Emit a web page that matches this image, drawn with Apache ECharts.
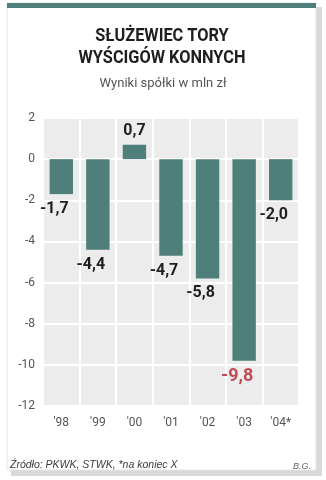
<!DOCTYPE html>
<html><head><meta charset="utf-8">
<script src="https://cdn.jsdelivr.net/npm/echarts@6/dist/echarts.min.js"></script>
<style>html,body{margin:0;padding:0;background:#fff;}#c{width:326px;height:480px;}</style>
</head><body><div id="c"></div>
<script>
const categories = ["'98", "'99", "'00", "'01", "'02", "'03", "'04*"];
const values = [-1.7, -4.4, 0.7, -4.7, -5.8, -9.8, -2.0];
const yTicks = { min: -12, max: 2, interval: 2 };
const titleLines = ["SŁUŻEWIEC TORY", "WYŚCIGÓW KONNYCH"];
const subtitle = "Wyniki spółki w mln zł";
const source = "Źródło: PKWK, STWK, *na koniec X";
const author = "B.G.";

const chart = echarts.init(document.getElementById('c'), null, {renderer: 'canvas'});
const fmt = v => String(v.toFixed(1)).replace('.', ',');
chart.setOption({
  animation: false,
  backgroundColor: '#fff',
  graphic: [
    {type: 'rect', shape: {x: 11, y: 7, width: 311, height: 469}, style: {fill: '#d9d9d9'}, z: -10},
    {type: 'rect', shape: {x: 7, y: 3, width: 309, height: 467}, style: {fill: '#fff', stroke: '#e6e6e6', lineWidth: 1}, z: -9},
    {type: 'rect', shape: {x: 7, y: 3, width: 309, height: 5}, style: {fill: '#4f7f7b'}, z: -8},
    {type: 'text', x: 162, y: 25, scaleX: 0.86, originX: 0,
     style: {x: 0, y: 0, text: titleLines.join('\n'), font: 'bold 19px Roboto, "Liberation Sans", sans-serif', fill: '#1e1e1e', align: 'center', verticalAlign: 'top', lineHeight: 22}},
    {type: 'text', left: 'center', top: 77, style: {text: subtitle, font: '13px "Roboto", "Liberation Sans", sans-serif', fill: '#555', textAlign: 'center'}},
    {type: 'text', left: 10, top: 460, style: {text: source, font: 'italic 10.5px "Liberation Sans", sans-serif', fill: '#3a3a3a'}},
    {type: 'text', right: 15, top: 462, style: {text: author, font: 'italic 9px "Liberation Sans", sans-serif', fill: '#666'}}
  ],
  grid: {left: 43, right: 27, top: 118, bottom: 74, show: true, backgroundColor: '#ececec', borderWidth: 0},
  xAxis: {
    type: 'category', data: categories, position: 'bottom',
    axisLine: {show: false}, axisTick: {show: false},
    splitLine: {show: true, lineStyle: {color: '#fff', width: 2}},
    axisLabel: {color: '#555', fontSize: 12, fontFamily: 'Roboto', margin: 11}
  },
  yAxis: {
    type: 'value', min: yTicks.min, max: yTicks.max, interval: yTicks.interval,
    axisLine: {show: false}, axisTick: {show: false},
    splitLine: {show: true, lineStyle: {color: '#fff', width: 2}},
    axisLabel: {color: '#555', fontSize: 12, fontFamily: 'Roboto', margin: 8}
  },
  series: [{
    type: 'bar', barWidth: '64%',
    itemStyle: {color: '#4f7f7b'},
    data: values.map((v, i) => ({
      value: v,
      label: {
        show: true,
        position: v < 0 ? 'bottom' : 'top',
        distance: v < 0 ? 7 : 6,
        offset: v < 0 ? [-7, 0] : [0, 0],
        formatter: fmt(v),
        color: i === 5 ? '#c04a55' : '#1e1e1e',
        fontSize: i === 5 ? 18 : 16,
        fontWeight: 'bold',
        fontFamily: 'Roboto, sans-serif'
      }
    }))
  }]
});
</script></body></html>
